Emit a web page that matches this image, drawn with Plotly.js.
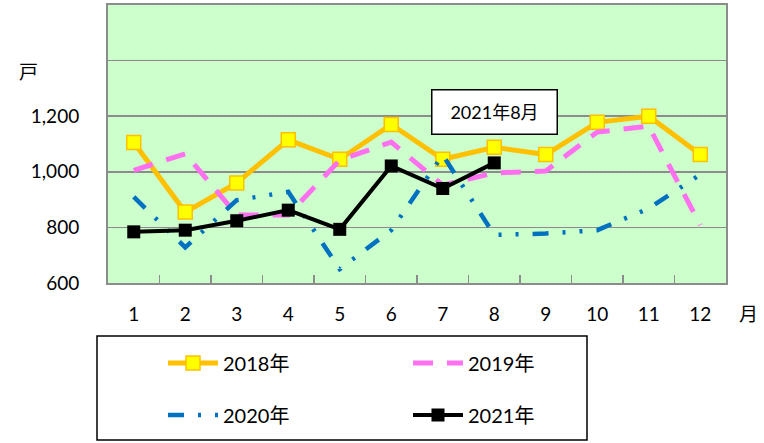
<!DOCTYPE html>
<html><head><meta charset="utf-8">
<script src="https://cdn.plot.ly/plotly-3.0.1.min.js"></script>
<style>body{margin:0;background:#fff}#c{width:764px;height:443px}</style>
</head><body><div id="c"></div>
<script>
const months = ['1','2','3','4','5','6','7','8','9','10','11','12'];
const v2018 = [1105, 855, 960, 1115, 1045, 1170, 1045, 1088, 1062, 1178, 1200, 1062];
const v2019 = [1005, 1065, 845, 845, 1042, 1107, 952, 996, 1003, 1143, 1164, 808];
const v2020 = [910, 728, 898, 928, 650, 790, 1060, 773, 778, 790, 868, 990];
const v2021 = [784, 790, 824, 862, 793, 1021, 940, 1032, null, null, null, null];
const seriesNames = ['2018年','2019年','2020年','2021年'];
const yTickVals = [600, 800, 1000, 1200, 1400];
const yTickText = ['600', '800', '1,000', '1,200', ''];
const noteText = '2021年8月';
const noteMonthIndex = 7;
const noteValue = 1214;

const FONT = 'Lato, "Noto Sans CJK JP", sans-serif';
const L = 108, T = 5, W = 618, H = 278;
const px = x => (x - L) / W;
const py = y => (T + H - y) / H;

const traces = [
  {x: months, y: v2018, name: seriesNames[0], type: 'scatter', mode: 'lines+markers',
   line: {color: '#FFC000', width: 5},
   marker: {symbol: 'square', size: 14, color: '#FFFF00', line: {color: '#FFC000', width: 1.5}},
   legend: 'legend'},
  {x: months, y: v2019, name: seriesNames[1], type: 'scatter', mode: 'lines',
   line: {color: '#FF70F0', width: 5, dash: '20px,14px'}, legend: 'legend'},
  {x: months, y: v2020, name: seriesNames[2], type: 'scatter', mode: 'lines',
   line: {color: '#0070C0', width: 4.5, dash: '16px,14px,3px,14px,3px,14px'}, legend: 'legend2'},
  {x: months, y: v2021, name: seriesNames[3], type: 'scatter', mode: 'lines+markers',
   line: {color: '#000000', width: 4},
   marker: {symbol: 'square', size: 13, color: '#000000'}, legend: 'legend2'}
];

const legendCommon = {orientation: 'h', xanchor: 'left', yanchor: 'middle',
  bgcolor: 'rgba(0,0,0,0)', borderwidth: 0, entrywidth: 180, itemwidth: 50,
  font: {family: FONT, size: 20, color: '#000'}};

const layout = {
  width: 764, height: 443,
  margin: {l: L, r: 764 - L - W, t: T, b: 443 - T - H},
  paper_bgcolor: '#ffffff', plot_bgcolor: '#CCFFCC',
  font: {family: FONT, size: 19, color: '#000'},
  showlegend: true,
  legend: Object.assign({x: px(163), y: py(363)}, legendCommon),
  legend2: Object.assign({x: px(163), y: py(415)}, legendCommon),
  xaxis: {type: 'category', range: [-0.5, 11.5], showgrid: false,
    ticks: 'inside', tickson: 'boundaries', ticklen: 8, tickwidth: 1.5, tickcolor: '#8c8c8c',
    showline: true, linecolor: '#8c8c8c', linewidth: 2, mirror: true,
    ticklabelstandoff: 13, tickfont: {size: 19, family: FONT}, zeroline: false, fixedrange: true},
  yaxis: {range: [600, 1600], tickmode: 'array', tickvals: yTickVals, ticktext: yTickText,
    showgrid: true, gridcolor: '#8c8c8c', gridwidth: 1.5, ticks: '',
    showline: true, linecolor: '#8c8c8c', linewidth: 2, mirror: true,
    ticklabelstandoff: 23, tickfont: {size: 19, family: FONT}, zeroline: false, fixedrange: true},
  shapes: [{type: 'rect', xref: 'paper', yref: 'paper', x0: px(97), x1: px(587), y0: py(440), y1: py(336),
    line: {color: '#000', width: 1.5}, fillcolor: 'rgba(0,0,0,0)', layer: 'below'}],
  annotations: [
    {x: noteMonthIndex, y: noteValue, xref: 'x', yref: 'y', text: noteText, showarrow: false,
     xanchor: 'center', yanchor: 'middle',
     font: {family: FONT, size: 18, color: '#000'}, bgcolor: '#fff', bordercolor: '#000', borderwidth: 1.5,
     width: 120, height: 39, borderpad: 2},
    {x: px(28), y: py(72), xref: 'paper', yref: 'paper', text: '戸', showarrow: false,
     xanchor: 'center', yanchor: 'middle',
     font: {family: FONT, size: 19, color: '#000'}},
    {x: px(748), y: py(313), xref: 'paper', yref: 'paper', text: '月', showarrow: false,
     xanchor: 'center', yanchor: 'middle',
     font: {family: FONT, size: 19, color: '#000'}}
  ]
};
Plotly.newPlot('c', traces, layout, {staticPlot: true});
</script></body></html>
